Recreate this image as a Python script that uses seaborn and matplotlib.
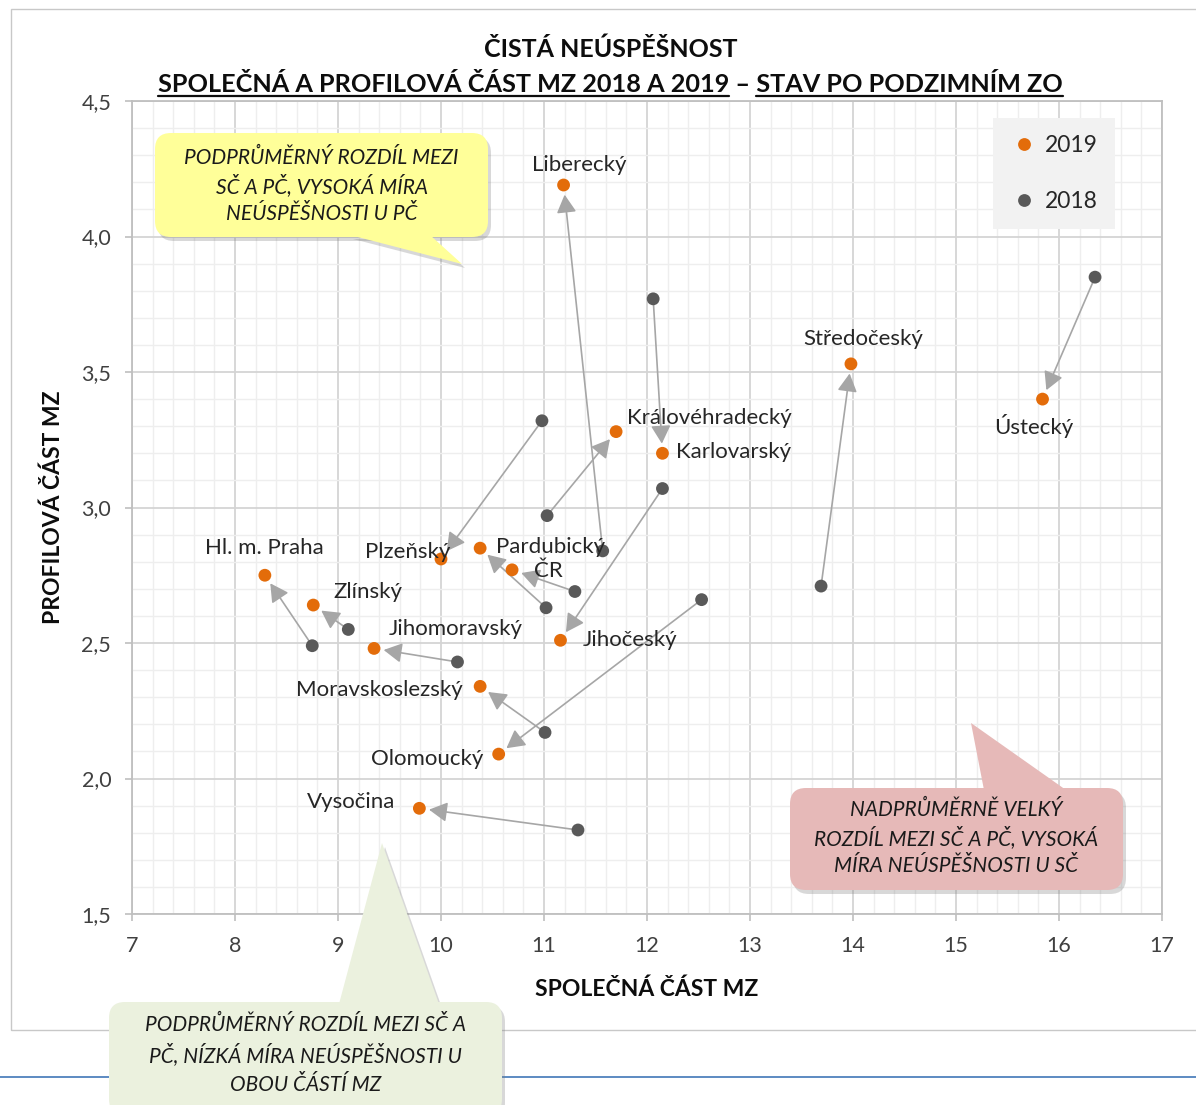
import matplotlib
matplotlib.use('Agg')
import matplotlib.pyplot as plt
import pandas as pd
import seaborn as sns
from matplotlib.lines import Line2D
from matplotlib.patches import FancyBboxPatch, Polygon, Rectangle
from matplotlib.ticker import MultipleLocator
from matplotlib.transforms import IdentityTransform

regions = ['Liberecký', 'Středočeský', 'Ústecký', 'Královéhradecký', 'Karlovarský',
           'Plzeňský', 'Pardubický', 'ČR', 'Hl. m. Praha', 'Zlínský',
           'Jihomoravský', 'Jihočeský', 'Moravskoslezský', 'Olomoucký', 'Vysočina']
spolecna_2019 = [11.19, 13.98, 15.84, 11.70, 12.15, 10.00, 10.38, 10.69, 8.29, 8.76,
                 9.35, 11.16, 10.38, 10.56, 9.79]
profilova_2019 = [4.19, 3.53, 3.40, 3.28, 3.20, 2.81, 2.85, 2.77, 2.75, 2.64,
                  2.48, 2.51, 2.34, 2.09, 1.89]
spolecna_2018 = [11.57, 13.69, 16.35, 11.03, 12.06, 10.98, 11.02, 11.30, 8.75, 9.10,
                 10.16, 12.15, 11.01, 12.53, 11.33]
profilova_2018 = [2.84, 2.71, 3.85, 2.97, 3.77, 3.32, 2.63, 2.69, 2.49, 2.55,
                  2.43, 3.07, 2.17, 2.66, 1.81]
years = ['2019', '2018']
year_colors = {'2019': '#e36c0a', '2018': '#595959'}

# label placement next to 2019 points: (dx px, dy px downwards, ha)
label_offsets = [(16, -20, 'center'), (12, -25, 'center'), (-9, 27, 'center'),
                 (11, -14, 'left'), (14, -1, 'left'), (-33, -7, 'center'),
                 (16, -1, 'left'), (22, 1, 'left'), (0, -27, 'center'),
                 (20, -13, 'left'), (15, -19, 'left'), (22, 0, 'left'),
                 (-17, 4, 'right'), (-15, 5, 'right'), (-24, -6, 'right')]

df = pd.concat([
    pd.DataFrame({'region': regions, 'x': spolecna_2019, 'y': profilova_2019, 'year': '2019'}),
    pd.DataFrame({'region': regions, 'x': spolecna_2018, 'y': profilova_2018, 'year': '2018'}),
])

W, H = 1196, 1105
sns.set_theme(style='white')
plt.rcParams['font.family'] = ['Lato', 'DejaVu Sans']
fig = plt.figure(figsize=(W / 100, H / 100), dpi=100)
ax = fig.add_axes([132 / W, 1 - 914 / H, 1030 / W, 813 / H])

# arrows 2018 -> 2019
for x0, y0, x1, y1 in zip(spolecna_2018, profilova_2018, spolecna_2019, profilova_2019):
    ax.annotate('', xy=(x1, y1), xytext=(x0, y0), zorder=2,
                arrowprops=dict(arrowstyle='-|>,head_length=0.55,head_width=0.3',
                                color='#a6a6a6', lw=1.2, shrinkA=0, shrinkB=7,
                                mutation_scale=20))

sns.scatterplot(data=df, x='x', y='y', hue='year', hue_order=years,
                palette=year_colors, s=85, linewidth=0, ax=ax, zorder=3)

for name, x, y, (dx, dy, ha) in zip(regions, spolecna_2019, profilova_2019, label_offsets):
    ax.annotate(name, xy=(x, y), xytext=(dx * 0.72, -dy * 0.72), textcoords='offset points',
                ha=ha, va='center', fontsize=16, color='#262626', zorder=4)

ax.set_xlim(7, 17)
ax.set_ylim(1.5, 4.5)
ax.xaxis.set_major_locator(MultipleLocator(1))
ax.xaxis.set_minor_locator(MultipleLocator(0.2))
ax.yaxis.set_major_locator(MultipleLocator(0.5))
ax.yaxis.set_minor_locator(MultipleLocator(0.1))
ax.yaxis.set_major_formatter(plt.FuncFormatter(lambda v, p: f'{v:.1f}'.replace('.', ',')))
ax.grid(which='major', color='#d4d4d4', lw=1.3, zorder=0)
ax.grid(which='minor', color='#eeeeee', lw=1.0, zorder=0)
ax.set_axisbelow(True)
for sp in ax.spines.values():
    sp.set_color('#bfbfbf')
    sp.set_linewidth(1.3)
ax.tick_params(which='major', length=5, width=1.2, color='#bfbfbf', labelsize=15.5,
               labelcolor='#404040', bottom=True, left=True)
ax.tick_params(axis='x', pad=11)
ax.tick_params(axis='y', pad=10)
ax.tick_params(which='minor', length=0)

ax.set_xlabel('SPOLEČNÁ ČÁST MZ', fontsize=16.5, fontweight='bold', color='#0d0d0d', va='center')
ax.xaxis.set_label_coords(0.5, -(989 - 914) / 813)
ax.set_ylabel('PROFILOVÁ ČÁST MZ', fontsize=16.5, fontweight='bold', color='#0d0d0d', va='center')
ax.yaxis.set_label_coords((53 - 132) / 1030, 0.5)

sns.move_legend(ax, 'upper left', bbox_to_anchor=((993 - 132) / 1030, (914 - 118) / 813),
                title=None, frameon=True, facecolor='#f2f2f2', edgecolor='none',
                fancybox=False, framealpha=1, fontsize=16.5, borderpad=0.75,
                borderaxespad=0, handlelength=1.2, handletextpad=0.3, labelspacing=1.5)
for t in ax.get_legend().get_texts():
    t.set_color('#262626')

# outer chart frame and page line
fig.add_artist(Rectangle((11, H - 1030), 1200, 1021, transform=IdentityTransform(),
                         fill=False, ec='#c8c8c8', lw=1, zorder=1))
fig.add_artist(Line2D([0, W], [H - 1077, H - 1077], transform=IdentityTransform(),
                      color='#4f81bd', lw=1.3, zorder=5))

# title
fig.text(611 / W, 1 - 57 / H, 'ČISTÁ NEÚSPĚŠNOST', ha='center', va='baseline',
         fontsize=18, fontweight='bold', color='#0d0d0d')
part1 = 'SPOLEČNÁ A PROFILOVÁ ČÁST MZ 2018 A 2019'
part2 = 'STAV PO PODZIMNÍM ZO'
full = part1 + ' – ' + part2
renderer = fig.canvas.get_renderer()


def text_width(s, size):
    t = fig.text(0, 0, s, fontsize=size, fontweight='bold')
    w = t.get_window_extent(renderer).width
    t.remove()
    return w


size = 18.5
size = size * 908 / text_width(full, size)
x0 = 158
fig.text(x0 / W, 1 - 92 / H, full, ha='left', va='baseline', fontsize=size,
         fontweight='bold', color='#0d0d0d')
w_full = text_width(full, size)
w1 = text_width(part1, size)
w2 = text_width(part2, size)
for a, b in [(x0, x0 + w1), (x0 + w_full - w2, x0 + w_full)]:
    fig.add_artist(Line2D([a, b], [H - 96, H - 96], transform=IdentityTransform(),
                          color='#0d0d0d', lw=1.6))


def callout(box, base, tip, color, lines, line_y, size):
    bx0, by0, bx1, by1 = box
    for dx, dy, fc, alpha, z in [(3, 4, '#808080', 0.3, 20), (0, 0, color, 1, 21)]:
        fig.add_artist(FancyBboxPatch((bx0 + dx, H - by1 - dy), bx1 - bx0, by1 - by0,
                                      boxstyle='round,pad=0,rounding_size=16',
                                      transform=IdentityTransform(), fc=fc, ec='none',
                                      alpha=alpha, zorder=z))
        pts = [(base[0] + dx, H - base[2] - dy), (base[1] + dx, H - base[2] - dy),
               (tip[0] + dx, H - tip[1] - dy)]
        fig.add_artist(Polygon(pts, closed=True, transform=IdentityTransform(), fc=fc,
                               ec='none', alpha=alpha, zorder=z))
    cx = (bx0 + bx1) / 2
    for s, y in zip(lines, line_y):
        fig.text(cx / W, 1 - y / H, s, ha='center', va='center', fontsize=size,
                 style='italic', color='#1a1a1a', zorder=22)


callout((155, 133, 488, 237), (350, 430, 235), (462, 264), '#ffff99',
        ['PODPRŮMĚRNÝ ROZDÍL MEZI', 'SČ A PČ, VYSOKÁ MÍRA', 'NEÚSPĚŠNOSTI U PČ'],
        [158, 186, 214], 15)
callout((790, 788, 1123, 890), (984, 1066, 790), (971, 723), '#e6b9b8',
        ['NADPRŮMĚRNĚ VELKÝ', 'ROZDÍL MEZI SČ A PČ, VYSOKÁ', 'MÍRA NEÚSPĚŠNOSTI U SČ'],
        [810, 838, 866], 15)
callout((109, 1002, 502, 1115), (339, 439, 1004), (382, 843), '#ebf1de',
        ['PODPRŮMĚRNÝ ROZDÍL MEZI SČ A', 'PČ, NÍZKÁ MÍRA NEÚSPĚŠNOSTI U', 'OBOU ČÁSTÍ MZ'],
        [1025, 1055, 1085], 15)

fig.savefig('out.png', dpi=100)
